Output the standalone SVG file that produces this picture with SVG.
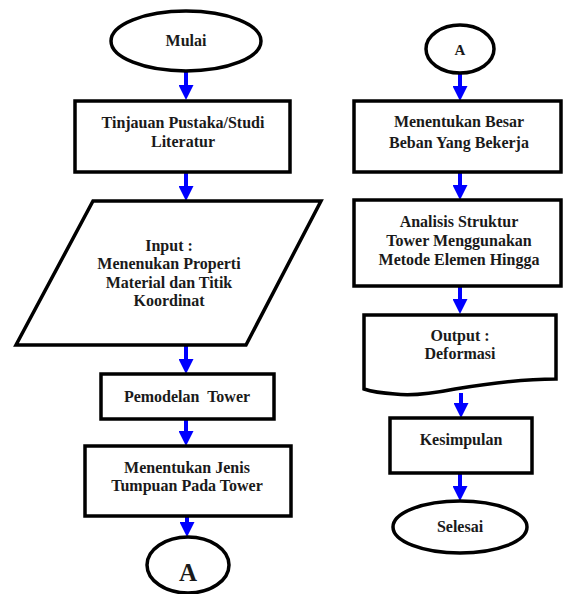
<svg xmlns="http://www.w3.org/2000/svg" width="564" height="594" viewBox="0 0 564 594">
<style>
.s{fill:#fff;stroke:#000;stroke-width:3.5}
.t{font-family:"Liberation Serif","Times New Roman",serif;font-weight:bold;font-size:16px;fill:#1a1a1a;text-anchor:middle}
.c{fill:none;stroke:#0000ff;stroke-width:4;marker-end:url(#ah)}
</style>
<defs>
<marker id="ah" markerUnits="userSpaceOnUse" viewBox="0 0 15 15" markerWidth="15" markerHeight="15" refX="0" refY="7.5" orient="auto">
<path d="M0,0 L15,7.5 L0,15 z" fill="#0000ff"/>
</marker>
</defs>
<rect width="564" height="594" fill="#fff"/>
<g id="connectors">
<path class="c" d="M186,72 V85"/>
<path class="c" d="M186,173 V186"/>
<path class="c" d="M186,345 V359"/>
<path class="c" d="M186,419 V431"/>
<path class="c" d="M187,516 V522"/>
<path class="c" d="M460,73 V86"/>
<path class="c" d="M460,173 V185"/>
<path class="c" d="M460,286 V299"/>
<path class="c" d="M461,393 V403"/>
<path class="c" d="M460,473 V486"/>
</g>
<g id="mulai">
<ellipse class="s" cx="186" cy="41" rx="75" ry="30"/>
<text class="t" x="186" y="46">Mulai</text>
</g>
<g id="tinjauan">
<rect class="s" x="75" y="101" width="215" height="71"/>
<text class="t" x="183" y="128">Tinjauan Pustaka/Studi</text>
<text class="t" x="183" y="147">Literatur</text>
</g>
<g id="input">
<polygon class="s" points="93,201 321,201 246,345 16,345"/>
<text class="t" x="169" y="251">Input :</text>
<text class="t" x="169" y="269">Menenukan Properti</text>
<text class="t" x="169" y="288">Material dan Titik</text>
<text class="t" x="169" y="306">Koordinat</text>
</g>
<g id="pemodelan">
<rect class="s" x="101" y="374" width="173" height="45"/>
<text class="t" x="187" y="402" xml:space="preserve">Pemodelan  Tower</text>
</g>
<g id="tumpuan">
<rect class="s" x="85" y="446" width="206" height="70"/>
<text class="t" x="187" y="473">Menentukan Jenis</text>
<text class="t" x="187" y="491">Tumpuan Pada Tower</text>
</g>
<g id="a1">
<ellipse class="s" cx="188" cy="565" rx="41" ry="28"/>
<text class="t" x="188" y="581" style="font-size:25px">A</text>
</g>
<g id="a2">
<ellipse class="s" cx="460" cy="49" rx="34" ry="24"/>
<text class="t" x="460" y="55" style="font-size:15px">A</text>
</g>
<g id="beban">
<rect class="s" x="354" y="101" width="207" height="71"/>
<text class="t" x="459" y="127">Menentukan Besar</text>
<text class="t" x="459" y="148">Beban Yang Bekerja</text>
</g>
<g id="analisis">
<rect class="s" x="354" y="200" width="207" height="86"/>
<text class="t" x="459" y="227">Analisis Struktur</text>
<text class="t" x="459" y="246">Tower Menggunakan</text>
<text class="t" x="459" y="265">Metode Elemen Hingga</text>
</g>
<g id="output">
<path class="s" d="M364,315 H556 V379 C520,379 490,383 455,389 C430,394 410,396 395,394 C380,393 370,391 364,389 Z"/>
<text class="t" x="460" y="341">Output :</text>
<text class="t" x="460" y="359">Deformasi</text>
</g>
<g id="kesimpulan">
<rect class="s" x="390" y="418" width="142" height="55"/>
<text class="t" x="461" y="445">Kesimpulan</text>
</g>
<g id="selesai">
<ellipse class="s" cx="460" cy="527" rx="67" ry="26"/>
<text class="t" x="460" y="532">Selesai</text>
</g>
</svg>
